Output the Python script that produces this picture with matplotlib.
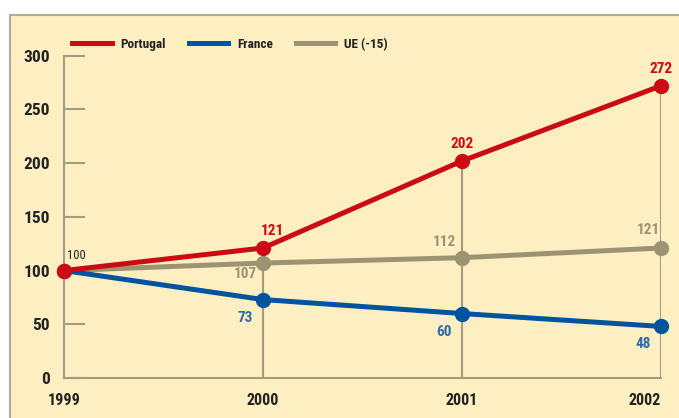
import matplotlib.pyplot as plt
from matplotlib.patches import Rectangle
from matplotlib.lines import Line2D

# data (index 1999 = 100)
years = [1999, 2000, 2001, 2002]
portugal = [100, 121, 202, 272]
france = [100, 73, 60, 48]
ue15 = [100, 107, 112, 121]
y_ticks = [0, 50, 100, 150, 200, 250, 300]

RED = '#cc0a14'
BLUE = '#00539f'
GREY = '#9c9372'
AXIS = '#a39c7e'
CREAM = '#fdefc2'

plt.rcParams['font.family'] = ['Roboto Condensed', 'DejaVu Sans']

W, H = 679, 418
fig = plt.figure(figsize=(W / 100, H / 100), dpi=100)

# cream panel with grey frame
panel = Rectangle((10 / W, -0.01), 1.0, 1 - 15 / H + 0.01, transform=fig.transFigure,
                  facecolor=CREAM, edgecolor='#b0aa98', linewidth=1.5, zorder=-5)
fig.patches.append(panel)

ax = fig.add_axes([64 / W, 1 - 378 / H, (661 - 64) / W, (378 - 55.7) / H])
ax.set_facecolor('none')
ax.set_zorder(2)
ax.set_xlim(1999, 2002)
ax.set_ylim(0, 300)

for s in ['top', 'right']:
    ax.spines[s].set_visible(False)
for s in ['left', 'bottom']:
    ax.spines[s].set_color(AXIS)
    ax.spines[s].set_linewidth(1.5)

ax.set_yticks(y_ticks)
ax.set_yticklabels([str(v) for v in y_ticks])
ax.tick_params(axis='y', direction='in', length=15, width=1.5, color=AXIS,
               pad=10, labelsize=12.5)
for t in ax.get_yticklabels():
    t.set_fontweight('bold')
    t.set_color('#222222')
ax.set_xticks(years)
ax.set_xticklabels([str(y) for y in years])
ax.tick_params(axis='x', length=0, pad=11, labelsize=11.5)
for t in ax.get_xticklabels():
    t.set_fontweight('bold')
    t.set_color('#222222')
ax.get_xticklabels()[-1].set_horizontalalignment('right')
ax.get_xticklabels()[-1].set_x(2002.04)

# vertical guides from the axis up to the highest point of each year
tops = [max(a, b, c) for a, b, c in zip(portugal, france, ue15)]
ax.vlines(years[1:], 0, tops[1:], color=AXIS, linewidth=1.5, zorder=1)

series = [(ue15, GREY, 'UE (-15)'), (france, BLUE, 'France'), (portugal, RED, 'Portugal')]
for vals, col, name in series:
    ax.plot(years, vals, color=col, linewidth=3.6, marker='o', markersize=10,
            clip_on=False, zorder=3, label=name, solid_capstyle='round')

# value labels (offsets in points)
lab_style = dict(textcoords='offset points', ha='center', va='center',
                 fontsize=11, fontweight='bold')
for i in range(1, 4):
    ax.annotate(str(portugal[i]), (years[i], portugal[i]), xytext=(7 if i == 1 else 0, 12),
                color=RED, **lab_style)
    ax.annotate(str(france[i]), (years[i], france[i]), xytext=(-13, -13),
                color='#2f6aa8', **lab_style)
ax.annotate(str(ue15[1]), (years[1], ue15[1]), xytext=(-13, -8), color=GREY, **lab_style)
ax.annotate(str(ue15[2]), (years[2], ue15[2]), xytext=(-13, 11), color=GREY, **lab_style)
ax.annotate(str(ue15[3]), (years[3], ue15[3]), xytext=(-9, 13), color=GREY, **lab_style)
ax.annotate(str(portugal[0]), (years[0], portugal[0]), xytext=(9, 11), textcoords='offset points',
            ha='center', va='center', fontsize=9, color='#222222')

handles, labels = ax.get_legend_handles_labels()
order = [2, 1, 0]
leg_handles = [Line2D([], [], color=handles[i].get_color(), linewidth=3.6) for i in order]
leg = ax.legend(leg_handles, [labels[i] for i in order], loc='lower left',
                bbox_to_anchor=(72 / W, 1 - 51 / H), bbox_transform=fig.transFigure,
                ncol=3, frameon=False, handlelength=3.0, handletextpad=0.65,
                columnspacing=1.75, prop={'size': 9.5, 'weight': 'bold'},
                borderaxespad=0, borderpad=0)
for t in leg.get_texts():
    t.set_color('#222222')

fig.savefig('out.png', dpi=100)
